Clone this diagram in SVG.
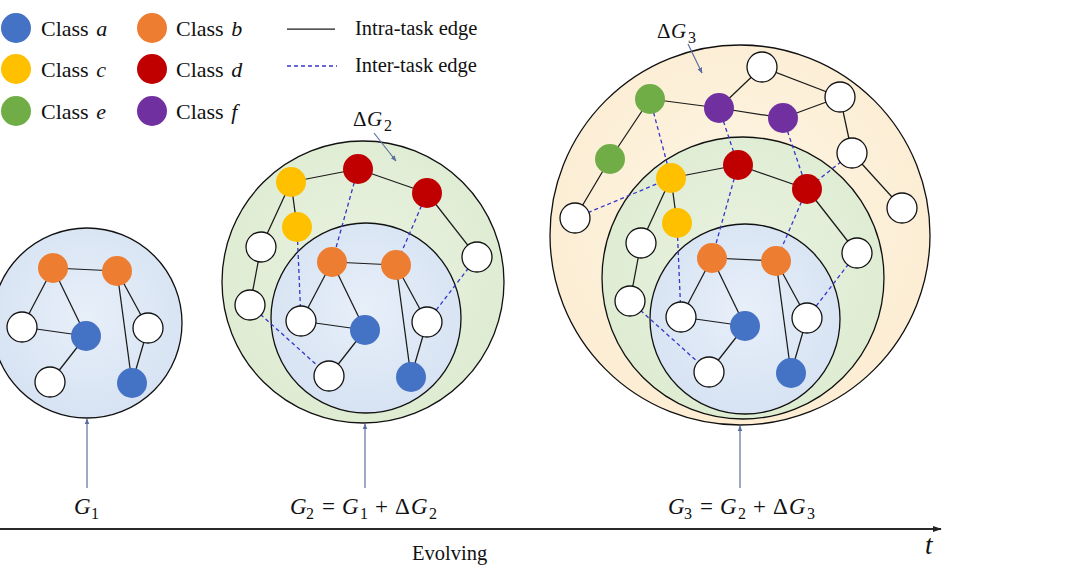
<svg xmlns="http://www.w3.org/2000/svg" width="1080" height="572" viewBox="0 0 1080 572">
<style>
text{font-family:"Liberation Serif","Times New Roman",serif;fill:#111}
.lg{font-size:22px}
.le{font-size:20.5px}
.it{font-style:italic}
.m{font-size:23px}
.sb{font-size:16px}
.ml{font-size:21px}
.e{stroke:#1a1a1a;stroke-width:1.25;fill:none}
.d{stroke:#3636c8;stroke-width:1.3;stroke-dasharray:4 3;fill:none}
.w{fill:#fff;stroke:#111;stroke-width:1.3}
.ca{fill:#4472C4}.cb{fill:#ED7D31}.cc{fill:#FFC000}.cd{fill:#C00000}.ce{fill:#70AD47}.cf{fill:#7030A0}
.rg{stroke:#111;stroke-width:1.3}
.up{stroke:#5b6f9f;stroke-width:1.2;fill:none}
</style>
<defs>
<radialGradient id="gb" cx="50%" cy="45%" r="55%"><stop offset="0" stop-color="#e7eff9"/><stop offset="1" stop-color="#d7e3f3"/></radialGradient>
<radialGradient id="gg" cx="50%" cy="45%" r="55%"><stop offset="0" stop-color="#e9f2e0"/><stop offset="1" stop-color="#deecd2"/></radialGradient>
<radialGradient id="gy" cx="50%" cy="45%" r="55%"><stop offset="0" stop-color="#fdf5e3"/><stop offset="1" stop-color="#fcedd3"/></radialGradient>
<marker id="au" viewBox="0 0 10 10" refX="9" refY="5" markerWidth="6" markerHeight="6" orient="auto" markerUnits="userSpaceOnUse"><path d="M0,1 L10,5 L0,9 Z" fill="#5b6f9f"/></marker>
<marker id="ax" viewBox="0 0 10 10" refX="9" refY="5" markerWidth="9" markerHeight="9" orient="auto" markerUnits="userSpaceOnUse"><path d="M0,1.5 L10,5 L0,8.5 Z" fill="#222"/></marker>
</defs>

<!-- legend -->
<g id="legend">
<circle cx="16" cy="28" r="15" class="ca"/><text x="41" y="36" class="lg">Class <tspan class="it" dx="2">a</tspan></text>
<circle cx="152" cy="28" r="15" class="cb"/><text x="176" y="36" class="lg">Class <tspan class="it" dx="2">b</tspan></text>
<circle cx="16" cy="69" r="15" class="cc"/><text x="41" y="77" class="lg">Class <tspan class="it" dx="2">c</tspan></text>
<circle cx="152" cy="69" r="15" class="cd"/><text x="176" y="77" class="lg">Class <tspan class="it" dx="2">d</tspan></text>
<circle cx="16" cy="111" r="15" class="ce"/><text x="41" y="119" class="lg">Class <tspan class="it" dx="2">e</tspan></text>
<circle cx="152" cy="111" r="15" class="cf"/><text x="176" y="119" class="lg">Class <tspan class="it" dx="2">f</tspan></text>
<line x1="287" y1="29" x2="335" y2="29" class="e"/><text x="355" y="35" class="le">Intra-task edge</text>
<line x1="287" y1="66" x2="337" y2="66" class="d"/><text x="355" y="72" class="le">Inter-task edge</text>
</g>

<!-- regions -->
<g id="regions">
<circle id="G1-region" cx="87" cy="323" r="95" fill="url(#gb)" class="rg"/>
<circle id="G2-outer" cx="363" cy="282" r="141" fill="url(#gg)" class="rg"/>
<circle id="G2-inner" cx="366" cy="318" r="95" fill="url(#gb)" class="rg"/>
<circle id="G3-outer" cx="740" cy="235" r="190" fill="url(#gy)" class="rg"/>
<circle id="G3-middle" cx="743" cy="278" r="141" fill="url(#gg)" class="rg"/>
<circle id="G3-inner" cx="745" cy="319" r="95" fill="url(#gb)" class="rg"/>
</g>

<g id="connectors">
<!-- G1 -->
<line x1="53" y1="268" x2="117" y2="271" class="e"/>
<line x1="53" y1="268" x2="22" y2="327" class="e"/>
<line x1="53" y1="268" x2="86" y2="336" class="e"/>
<line x1="22" y1="327" x2="86" y2="336" class="e"/>
<line x1="86" y1="336" x2="50" y2="382" class="e"/>
<line x1="117" y1="271" x2="132" y2="383" class="e"/>
<line x1="117" y1="271" x2="148" y2="328" class="e"/>
<line x1="148" y1="328" x2="132" y2="383" class="e"/>
<!-- G2 inner -->
<line x1="332" y1="262" x2="396" y2="265" class="e"/>
<line x1="332" y1="262" x2="301" y2="321" class="e"/>
<line x1="332" y1="262" x2="365" y2="330" class="e"/>
<line x1="301" y1="321" x2="365" y2="330" class="e"/>
<line x1="365" y1="330" x2="329" y2="376" class="e"/>
<line x1="396" y1="265" x2="411" y2="377" class="e"/>
<line x1="396" y1="265" x2="427" y2="322" class="e"/>
<line x1="427" y1="322" x2="411" y2="377" class="e"/>
<!-- G2 outer -->
<line x1="291" y1="182" x2="358" y2="169" class="e"/>
<line x1="358" y1="169" x2="427" y2="193" class="e"/>
<line x1="291" y1="182" x2="297" y2="227" class="e"/>
<line x1="291" y1="182" x2="261" y2="247" class="e"/>
<line x1="261" y1="247" x2="250" y2="305" class="e"/>
<line x1="427" y1="193" x2="477" y2="257" class="e"/>
<line x1="358" y1="169" x2="332" y2="262" class="d"/>
<line x1="427" y1="193" x2="396" y2="265" class="d"/>
<line x1="297" y1="227" x2="301" y2="321" class="d"/>
<line x1="250" y1="305" x2="329" y2="376" class="d"/>
<line x1="477" y1="257" x2="427" y2="322" class="d"/>
<!-- G3 inner -->
<line x1="712" y1="258" x2="776" y2="261" class="e"/>
<line x1="712" y1="258" x2="681" y2="317" class="e"/>
<line x1="712" y1="258" x2="745" y2="326" class="e"/>
<line x1="681" y1="317" x2="745" y2="326" class="e"/>
<line x1="745" y1="326" x2="709" y2="372" class="e"/>
<line x1="776" y1="261" x2="791" y2="373" class="e"/>
<line x1="776" y1="261" x2="807" y2="318" class="e"/>
<line x1="807" y1="318" x2="791" y2="373" class="e"/>
<!-- G3 middle -->
<line x1="671" y1="178" x2="738" y2="165" class="e"/>
<line x1="738" y1="165" x2="807" y2="189" class="e"/>
<line x1="671" y1="178" x2="677" y2="223" class="e"/>
<line x1="671" y1="178" x2="641" y2="243" class="e"/>
<line x1="641" y1="243" x2="630" y2="301" class="e"/>
<line x1="807" y1="189" x2="857" y2="253" class="e"/>
<line x1="738" y1="165" x2="712" y2="258" class="d"/>
<line x1="807" y1="189" x2="776" y2="261" class="d"/>
<line x1="677" y1="223" x2="681" y2="317" class="d"/>
<line x1="630" y1="301" x2="709" y2="372" class="d"/>
<line x1="857" y1="253" x2="807" y2="318" class="d"/>
<!-- G3 outer -->
<line x1="650" y1="99" x2="719" y2="108" class="e"/>
<line x1="719" y1="108" x2="762" y2="67" class="e"/>
<line x1="762" y1="67" x2="840" y2="97" class="e"/>
<line x1="719" y1="108" x2="783" y2="118" class="e"/>
<line x1="783" y1="118" x2="840" y2="97" class="e"/>
<line x1="840" y1="97" x2="852" y2="153" class="e"/>
<line x1="852" y1="153" x2="902" y2="208" class="e"/>
<line x1="650" y1="99" x2="610" y2="159" class="e"/>
<line x1="610" y1="159" x2="575" y2="218" class="e"/>
<line x1="650" y1="99" x2="671" y2="178" class="d"/>
<line x1="719" y1="108" x2="738" y2="165" class="d"/>
<line x1="783" y1="118" x2="807" y2="189" class="d"/>
<line x1="852" y1="153" x2="807" y2="189" class="d"/>
<line x1="575" y1="218" x2="671" y2="178" class="d"/>
<!-- pointer arrows -->
<line x1="374" y1="133" x2="396" y2="161" class="up" marker-end="url(#au)"/>
<line x1="688" y1="44" x2="702" y2="73" class="up" marker-end="url(#au)"/>
<line x1="87" y1="488" x2="87" y2="419" class="up" marker-end="url(#au)"/>
<line x1="365" y1="488" x2="365" y2="424" class="up" marker-end="url(#au)"/>
<line x1="740" y1="488" x2="740" y2="426" class="up" marker-end="url(#au)"/>
<!-- time axis -->
<line x1="0" y1="529" x2="941" y2="529" stroke="#2a2a2a" stroke-width="1.8" marker-end="url(#ax)"/>
</g>

<!-- G1 nodes -->
<g id="g1-o1"><circle cx="53" cy="268" r="15" class="cb"/></g>
<g id="g1-o2"><circle cx="117" cy="271" r="15" class="cb"/></g>
<g id="g1-w1"><circle cx="22" cy="327" r="15" class="w"/></g>
<g id="g1-b1"><circle cx="86" cy="336" r="15" class="ca"/></g>
<g id="g1-w2"><circle cx="50" cy="382" r="15" class="w"/></g>
<g id="g1-w3"><circle cx="148" cy="328" r="15" class="w"/></g>
<g id="g1-b2"><circle cx="132" cy="383" r="15" class="ca"/></g>
<!-- G2 nodes -->
<g id="g2-o1"><circle cx="332" cy="262" r="15" class="cb"/></g>
<g id="g2-o2"><circle cx="396" cy="265" r="15" class="cb"/></g>
<g id="g2-w1"><circle cx="301" cy="321" r="15" class="w"/></g>
<g id="g2-b1"><circle cx="365" cy="330" r="15" class="ca"/></g>
<g id="g2-w2"><circle cx="329" cy="376" r="15" class="w"/></g>
<g id="g2-w3"><circle cx="427" cy="322" r="15" class="w"/></g>
<g id="g2-b2"><circle cx="411" cy="377" r="15" class="ca"/></g>
<g id="g2-y1"><circle cx="291" cy="182" r="15" class="cc"/></g>
<g id="g2-r1"><circle cx="358" cy="169" r="15" class="cd"/></g>
<g id="g2-r2"><circle cx="427" cy="193" r="15" class="cd"/></g>
<g id="g2-y2"><circle cx="297" cy="227" r="15" class="cc"/></g>
<g id="g2-wa"><circle cx="261" cy="247" r="15" class="w"/></g>
<g id="g2-wb"><circle cx="250" cy="305" r="15" class="w"/></g>
<g id="g2-wc"><circle cx="477" cy="257" r="15" class="w"/></g>
<!-- G3 nodes -->
<g id="g3-o1"><circle cx="712" cy="258" r="15" class="cb"/></g>
<g id="g3-o2"><circle cx="776" cy="261" r="15" class="cb"/></g>
<g id="g3-w1"><circle cx="681" cy="317" r="15" class="w"/></g>
<g id="g3-b1"><circle cx="745" cy="326" r="15" class="ca"/></g>
<g id="g3-w2"><circle cx="709" cy="372" r="15" class="w"/></g>
<g id="g3-w3"><circle cx="807" cy="318" r="15" class="w"/></g>
<g id="g3-b2"><circle cx="791" cy="373" r="15" class="ca"/></g>
<g id="g3-y1"><circle cx="671" cy="178" r="15" class="cc"/></g>
<g id="g3-r1"><circle cx="738" cy="165" r="15" class="cd"/></g>
<g id="g3-r2"><circle cx="807" cy="189" r="15" class="cd"/></g>
<g id="g3-y2"><circle cx="677" cy="223" r="15" class="cc"/></g>
<g id="g3-wa"><circle cx="641" cy="243" r="15" class="w"/></g>
<g id="g3-wb"><circle cx="630" cy="301" r="15" class="w"/></g>
<g id="g3-wc"><circle cx="857" cy="253" r="15" class="w"/></g>
<g id="g3-wt"><circle cx="762" cy="67" r="15" class="w"/></g>
<g id="g3-wr1"><circle cx="840" cy="97" r="15" class="w"/></g>
<g id="g3-e1"><circle cx="650" cy="99" r="15" class="ce"/></g>
<g id="g3-f1"><circle cx="719" cy="108" r="15" class="cf"/></g>
<g id="g3-f2"><circle cx="783" cy="118" r="15" class="cf"/></g>
<g id="g3-wr2"><circle cx="852" cy="153" r="15" class="w"/></g>
<g id="g3-e2"><circle cx="610" cy="159" r="15" class="ce"/></g>
<g id="g3-wr3"><circle cx="902" cy="208" r="15" class="w"/></g>
<g id="g3-wl"><circle cx="575" cy="218" r="15" class="w"/></g>

<!-- labels -->
<g id="labels">
<text class="ml"><tspan x="353" y="126">Δ</tspan><tspan x="367" y="126" class="it">G</tspan><tspan x="384" y="131" class="sb">2</tspan></text>
<text class="ml"><tspan x="657" y="38">Δ</tspan><tspan x="671" y="38" class="it">G</tspan><tspan x="688" y="43" class="sb">3</tspan></text>
<text class="m"><tspan x="74" y="514" class="it">G</tspan><tspan x="91" y="519" class="sb">1</tspan></text>
<text class="m"><tspan x="290" y="514" class="it">G</tspan><tspan x="306" y="519" class="sb">2</tspan><tspan x="322" y="514">=</tspan><tspan x="342" y="514" class="it">G</tspan><tspan x="360" y="519" class="sb">1</tspan><tspan x="375" y="514">+</tspan><tspan x="395" y="514">Δ</tspan><tspan x="411" y="514" class="it">G</tspan><tspan x="429" y="519" class="sb">2</tspan></text>
<text class="m"><tspan x="668" y="514" class="it">G</tspan><tspan x="684" y="519" class="sb">3</tspan><tspan x="700" y="514">=</tspan><tspan x="720" y="514" class="it">G</tspan><tspan x="738" y="519" class="sb">2</tspan><tspan x="753" y="514">+</tspan><tspan x="773" y="514">Δ</tspan><tspan x="789" y="514" class="it">G</tspan><tspan x="807" y="519" class="sb">3</tspan></text>
<text x="412" y="560" style="font-size:20.5px">Evolving</text>
<text x="925" y="554" class="it" style="font-size:27px">t</text>
</g>
</svg>
